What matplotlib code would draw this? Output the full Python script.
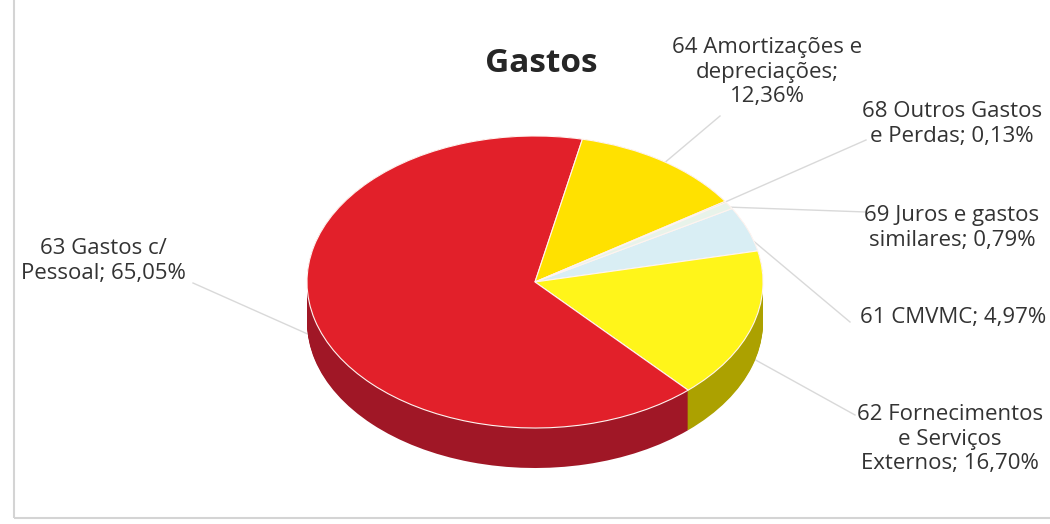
import numpy as np
import matplotlib.pyplot as plt
from matplotlib.patches import Rectangle

plt.rcParams['font.family'] = ['Open Sans', 'DejaVu Sans']

# data (Excel order, drawn clockwise)
categories = ['61 CMVMC', '62 Fornecimentos e Serviços Externos',
              '63 Gastos c/ Pessoal', '64 Amortizações e depreciações',
              '68 Outros Gastos e Perdas', '69 Juros e gastos similares']
values = [4.97, 16.70, 65.05, 12.36, 0.13, 0.79]
label_texts = ['61 CMVMC; 4,97%', '62 Fornecimentos\ne Serviços\nExternos; 16,70%',
               '63 Gastos c/\nPessoal; 65,05%', '64 Amortizações e\ndepreciações;\n12,36%',
               '68 Outros Gastos\ne Perdas; 0,13%', '69 Juros e gastos\nsimilares; 0,79%']

top_colors = ['#d9eef4', '#fff51a', '#e2202a', '#ffe100', '#8cc04a', '#e8f3ea']
side_colors = ['#b8c8cc', '#aca100', '#a01726', '#b09c00', '#6a9a30', '#c4cfc6']

W, H = 1050, 524
cx, cy = 535, 282      # pie centre, pixels from top-left
a, b = 228, 146        # ellipse semi-axes in pixels
depth = 40
start = 30.2

fig = plt.figure(figsize=(W / 100, H / 100), dpi=100)
ax = fig.add_axes([0, 0, 1, 1])

# cylinder side: stack of pies pushed down
n = 40
for k in range(n + 1):
    off = -depth / b * (1 - k / n)
    ax.pie(values, colors=side_colors, startangle=start, counterclock=False,
           center=(0, off), radius=1, wedgeprops=dict(linewidth=0))
# top face
wedges, _ = ax.pie(values, colors=top_colors, startangle=start, counterclock=False,
                   center=(0, 0), radius=1,
                   wedgeprops=dict(linewidth=0.8, edgecolor='#fff4f0'))

ax.set_aspect('auto')
ax.set_xlim(-cx / a, (W - cx) / a)
ax.set_ylim((cy - H) / b, cy / b)
ax.axis('off')

def px(x, y):
    return ((x - cx) / a, (cy - y) / b)

# label layout in pixels (centre of text block) and leader anchors
label_pos = [(953, 318), (950, 439), (103, 261), (767, 72), (952, 124), (952, 228)]
leader_end = [(850, 322), (855, 415), (193, 283), (720, 116), (866, 140), (866, 212)]
anchor_r = [0.97, 0.9, 0.95, 0.8, 0.98, 0.98]

for w, txt, (lx, ly), (ex, ey), r in zip(wedges, label_texts, label_pos, leader_end, anchor_r):
    ang = np.deg2rad((w.theta1 + w.theta2) / 2)
    ax_pt = (r * np.cos(ang), r * np.sin(ang))
    if np.sin(ang) < 0:
        ax_pt = (ax_pt[0], ax_pt[1] - depth / b * 0.6)
    ax.plot([ax_pt[0], px(ex, ey)[0]], [ax_pt[1], px(ex, ey)[1]],
            color='#d9d9d9', lw=1, zorder=0.5)
    ax.text(*px(lx, ly), txt, ha='center', va='center', fontsize=16,
            color='#333333', linespacing=1.2)

fig.text(541 / W, 1 - 64 / H, 'Gastos', ha='center', va='center',
         fontsize=24, fontweight='bold', color='#262626')

# chart area border
fig.patches.append(Rectangle((14 / W, 6 / H), 1.2, 1.2, transform=fig.transFigure,
                             fill=False, edgecolor='#d4d4d4', lw=1.5))

fig.savefig('out.png', dpi=100)
